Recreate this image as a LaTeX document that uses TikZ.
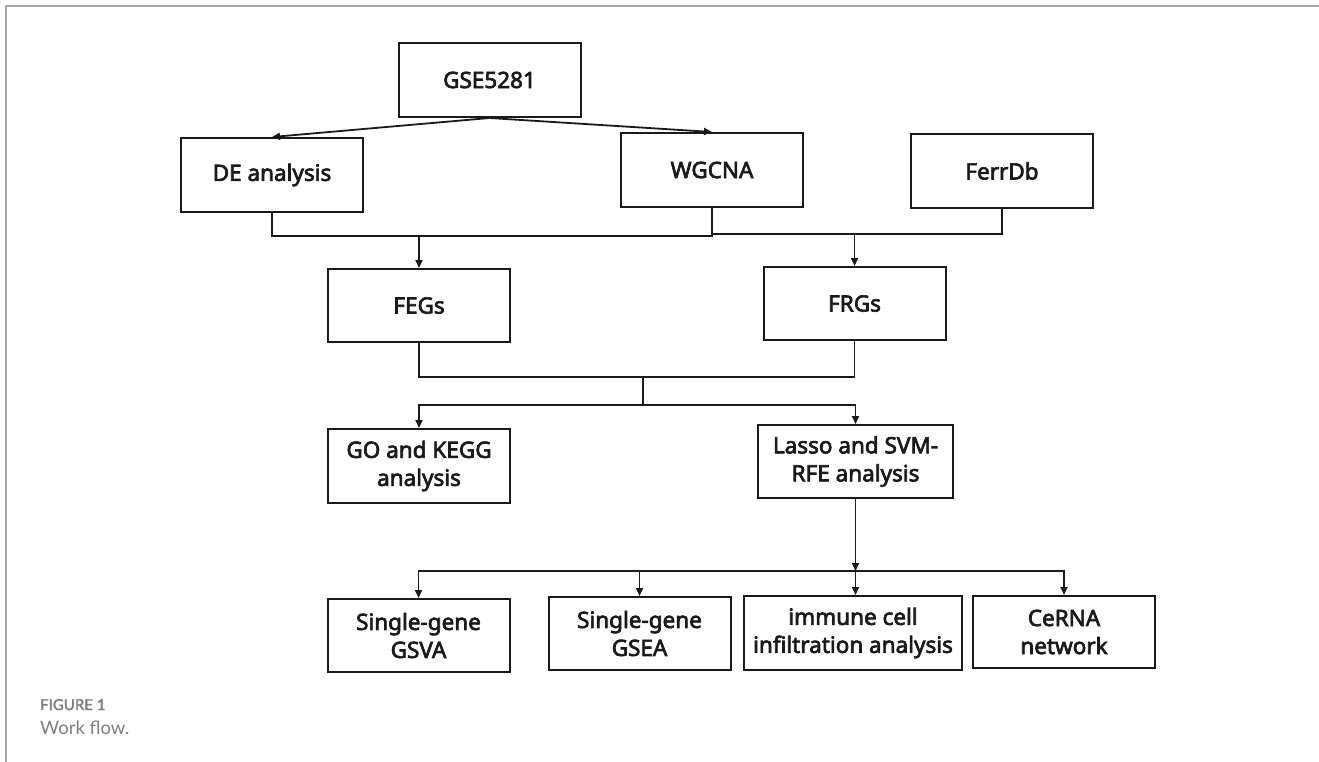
\documentclass[tikz,border=0pt]{standalone}
\usepackage{fontspec}
\setmainfont{Noto Sans}[BoldFont={Noto Sans}, BoldFeatures={FakeBold=3}]
\newfontfamily\capfont{Lato}[BoldFont={Lato}, BoldFeatures={FakeBold=2.5}]
\usetikzlibrary{positioning, calc, arrows.meta}
\definecolor{Ink}{HTML}{1A1A1A}
\definecolor{Frame}{HTML}{A8A8A8}
\definecolor{Caption}{HTML}{7F7F7F}
\tikzset{
    stagebox/.style={rectangle, draw=Ink, line width=2pt, minimum width=182pt, minimum height=74pt, inner sep=0pt, align=center, text=Ink, font=\bfseries\fontsize{22.5}{28}\selectfont},
    link/.style={line width=1.8pt, draw=Ink},
    arrow/.style={link, -{Triangle[length=8pt, width=7pt]}},
    captext/.style={anchor=base west, inner sep=0pt, text=Caption},
}

\begin{document}
\begin{tikzpicture}[x=1pt, y=-1pt]
    \useasboundingbox (0,0) rectangle (1319,762);
    % cornice della pagina
    \draw[Frame, line width=2pt] (6,762) -- (6,6) -- (1319,6);

    % Dati di partenza
    \node[stagebox] (gse) at (489.5,80) {GSE5281};
    \node[stagebox] (de) at (272,175) {DE analysis};
    \node[stagebox] (wgcna) at (712,170) {WGCNA};
    \node[stagebox] (ferrdb) at (1002,171) {FerrDb};

    % Geni intermedi
    \node[stagebox, minimum height=73pt] (fegs) at (419,305.5) {FEGs};
    \node[stagebox, minimum height=73pt] (frgs) at (854.5,303.5) {FRGs};

    % Analisi
    \node[stagebox] (gokegg) at (419,466) {GO and KEGG\\analysis};
    \node[stagebox, minimum width=195pt, minimum height=73pt] (lasso) at (855.5,461.5) {Lasso and SVM-\\RFE analysis};

    % Ultima riga
    \node[stagebox, minimum height=73pt] (gsva) at (418.5,635.5) {Single-gene\\GSVA};
    \node[stagebox, minimum height=73pt] (gsea) at (639.5,633.5) {Single-gene\\GSEA};
    \node[stagebox, minimum width=218pt] (immune) at (853,633) {immune cell\\infiltration analysis};
    \node[stagebox, minimum height=72pt] (cerna) at (1064,632) {CeRNA\\network};

    % Collegamenti
    \draw[arrow] (gse.south) -- (de.north);
    \draw[arrow] (gse.south) -- (wgcna.north);

    \coordinate (joinA) at (419,236);
    \coordinate (joinB) at (854.5,234);
    \draw[link] (de.south) |- (joinA) -| (wgcna.south);
    \draw[arrow] (joinA) -- (fegs.north);
    \draw[link] (wgcna.south) |- (joinB) -| (ferrdb.south);
    \draw[arrow] (joinB) -- (frgs.north);

    \coordinate (joinC) at (643,377);
    \coordinate (splitC) at (643,405);
    \draw[link] (fegs.south) |- (joinC) -| (frgs.south);
    \draw[link] (joinC) -- (splitC);
    \draw[arrow] (splitC) -| (gokegg.north);
    \draw[arrow] (splitC) -| (lasso.north);

    \coordinate (level) at (0,571);
    \coordinate (hub) at (lasso.south |- level);
    \draw[arrow] (lasso.south) -- (hub);
    \draw[arrow] (hub) -- (hub |- immune.north);
    \draw[arrow] (hub) -| (gsva.north);
    \draw[arrow] (hub) -| (gsea.north);
    \draw[arrow] (hub) -| (cerna.north);

    % Didascalia
    \node[captext, font=\capfont\bfseries\fontsize{15}{18}\selectfont] (figlab) at (40,710) {FIGURE 1};
    \node[captext, font=\capfont\fontsize{18.5}{22}\selectfont] (figcap) at (40,734) {Work flow.};
\end{tikzpicture}
\end{document}
